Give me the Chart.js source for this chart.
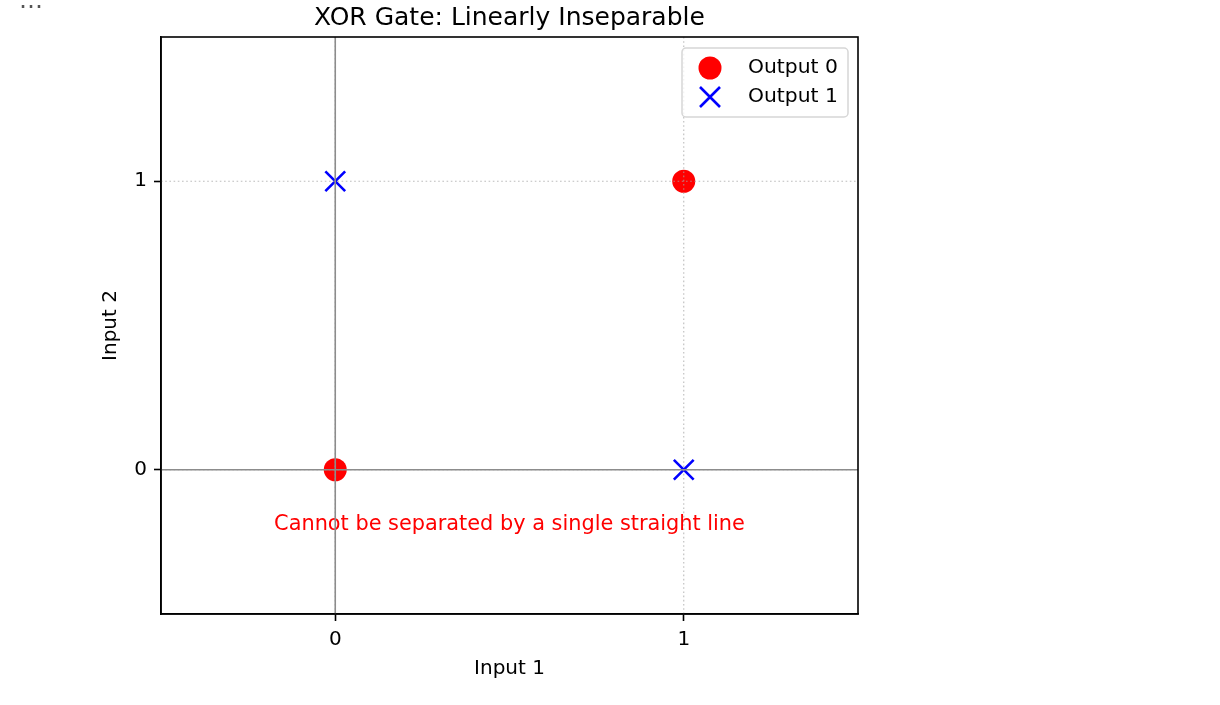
<!DOCTYPE html>
<html><head><meta charset="utf-8">
<script src="https://cdn.jsdelivr.net/npm/chart.js@4.4.1/dist/chart.umd.min.js"></script>
<style>
html,body{margin:0;padding:0;background:#fff;}
#wrap{position:relative;width:1220px;height:705px;overflow:hidden;}
#dots{position:absolute;left:19px;top:-12px;font:24px/24px 'DejaVu Sans';color:#555;}
</style></head><body>
<div id="wrap"><div id="dots">…</div><canvas id="c"></canvas></div>
<script>
const chartTitle = 'XOR Gate: Linearly Inseparable';
const xAxisTitle = 'Input 1';
const yAxisTitle = 'Input 2';
const tickValues = [0, 1];
const axisMin = -0.5;
const axisMax = 1.5;
const seriesNames = ['Output 0', 'Output 1'];
const output0Points = [{x: 0, y: 0}, {x: 1, y: 1}];
const output1Points = [{x: 0, y: 1}, {x: 1, y: 0}];
const annotationText = 'Cannot be separated by a single straight line';
const annotationX = 0.5;
const annotationY = -0.21;
const refLineX = 0;
const refLineY = 0;

const FONT = "'DejaVu Sans', sans-serif";
const RED = '#ff0000';
const BLUE = '#0000ff';

function drawCross(ctx, x, y, half, color, w) {
  ctx.save();
  ctx.strokeStyle = color; ctx.lineWidth = w; ctx.setLineDash([]);
  ctx.beginPath();
  ctx.moveTo(x - half, y - half); ctx.lineTo(x + half, y + half);
  ctx.moveTo(x + half, y - half); ctx.lineTo(x - half, y + half);
  ctx.stroke();
  ctx.restore();
}

const overlay = {
  id: 'overlay',
  afterDatasetsDraw(chart) {
    const ctx = chart.ctx, xs = chart.scales.x, ys = chart.scales.y, a = chart.chartArea;
    ctx.save();
    ctx.beginPath(); ctx.rect(a.left, a.top, a.right - a.left, a.bottom - a.top); ctx.clip();
    // annotation
    ctx.font = '20.85px ' + FONT;
    ctx.fillStyle = RED; ctx.textAlign = 'center'; ctx.textBaseline = 'alphabetic';
    ctx.fillText(annotationText, xs.getPixelForValue(annotationX), ys.getPixelForValue(annotationY));
    // dotted grid
    ctx.setLineDash([1.6, 2.6]);
    ctx.strokeStyle = 'rgba(165,165,165,0.75)'; ctx.lineWidth = 1.1;
    tickValues.forEach(v => {
      const px = xs.getPixelForValue(v), py = ys.getPixelForValue(v);
      ctx.beginPath(); ctx.moveTo(px, a.top); ctx.lineTo(px, a.bottom); ctx.stroke();
      ctx.beginPath(); ctx.moveTo(a.left, py); ctx.lineTo(a.right, py); ctx.stroke();
    });
    // reference lines
    ctx.setLineDash([]);
    ctx.strokeStyle = '#8c8c8c'; ctx.lineWidth = 1.6;
    const rx = xs.getPixelForValue(refLineX), ry = ys.getPixelForValue(refLineY);
    ctx.beginPath(); ctx.moveTo(rx, a.top); ctx.lineTo(rx, a.bottom); ctx.stroke();
    ctx.beginPath(); ctx.moveTo(a.left, ry); ctx.lineTo(a.right, ry); ctx.stroke();
    ctx.restore();
  },
  afterDraw(chart) {
    const ctx = chart.ctx, a = chart.chartArea;
    ctx.save();
    // frame
    ctx.strokeStyle = '#000'; ctx.lineWidth = 1.6; ctx.setLineDash([]);
    ctx.strokeRect(a.left, a.top, a.right - a.left, a.bottom - a.top);
    // legend
    const bw = 166, bh = 69;
    const bx = a.right - 10 - bw, by = a.top + 11;
    ctx.beginPath();
    ctx.roundRect(bx, by, bw, bh, 4);
    ctx.fillStyle = 'rgba(255,255,255,0.8)'; ctx.fill();
    ctx.strokeStyle = '#d6d6d6'; ctx.lineWidth = 1.5; ctx.stroke();
    const mx = bx + 28, r1 = by + 20, r2 = by + 49;
    ctx.beginPath(); ctx.arc(mx, r1, 11.5, 0, Math.PI * 2); ctx.fillStyle = RED; ctx.fill();
    drawCross(ctx, mx, r2, 10, BLUE, 2.6);
    ctx.font = '20.3px ' + FONT; ctx.fillStyle = '#000'; ctx.textAlign = 'left'; ctx.textBaseline = 'middle';
    ctx.fillText(seriesNames[0], bx + 66, r1);
    ctx.fillText(seriesNames[1], bx + 66, r2);
    ctx.restore();
  }
};

Chart.defaults.font.family = FONT;
Chart.defaults.font.size = 20;
Chart.defaults.color = '#000';

const setTicks = s => { s.ticks = tickValues.map(v => ({value: v})); };

new Chart(document.getElementById('c'), {
  type: 'scatter',
  data: {
    datasets: [
      {label: seriesNames[0], data: output0Points, pointStyle: 'circle', pointRadius: 11.5,
       pointHoverRadius: 11.5, backgroundColor: RED, borderWidth: 0},
      {label: seriesNames[1], data: output1Points, pointStyle: 'crossRot', pointRadius: 14,
       pointHoverRadius: 14, borderColor: BLUE, backgroundColor: BLUE, borderWidth: 2.6}
    ]
  },
  options: {
    responsive: true, maintainAspectRatio: false, animation: false,
    layout: {padding: {left: 99, right: 362, top: 0, bottom: 24}},
    plugins: {
      legend: {display: false},
      tooltip: {enabled: false},
      title: {display: true, text: chartTitle, fullSize: false, color: '#000',
              font: {size: 25, weight: 'normal', family: FONT}, padding: {top: 3.5, bottom: 3.5}}
    },
    scales: {
      x: {
        type: 'linear', position: 'bottom', min: axisMin, max: axisMax,
        afterBuildTicks: setTicks,
        afterFit: s => { s.height = 67; },
        grid: {drawOnChartArea: false, drawTicks: true, tickLength: 7, tickColor: '#000', tickWidth: 1.6},
        border: {display: true, color: '#000', width: 1.6},
        ticks: {padding: 7, color: '#000', font: {size: 20}},
        title: {display: true, text: xAxisTitle, color: '#000', font: {size: 20}, padding: {top: 0, bottom: 0}}
      },
      y: {
        type: 'linear', position: 'left', min: axisMin, max: axisMax,
        afterBuildTicks: setTicks,
        afterFit: s => { s.width = 62; },
        grid: {drawOnChartArea: false, drawTicks: true, tickLength: 7, tickColor: '#000', tickWidth: 1.6},
        border: {display: true, color: '#000', width: 1.6},
        ticks: {padding: 7, color: '#000', font: {size: 20}},
        title: {display: true, text: yAxisTitle, color: '#000', font: {size: 20}, padding: {top: 0, bottom: 0}}
      }
    }
  },
  plugins: [overlay]
});
</script>
</body></html>
